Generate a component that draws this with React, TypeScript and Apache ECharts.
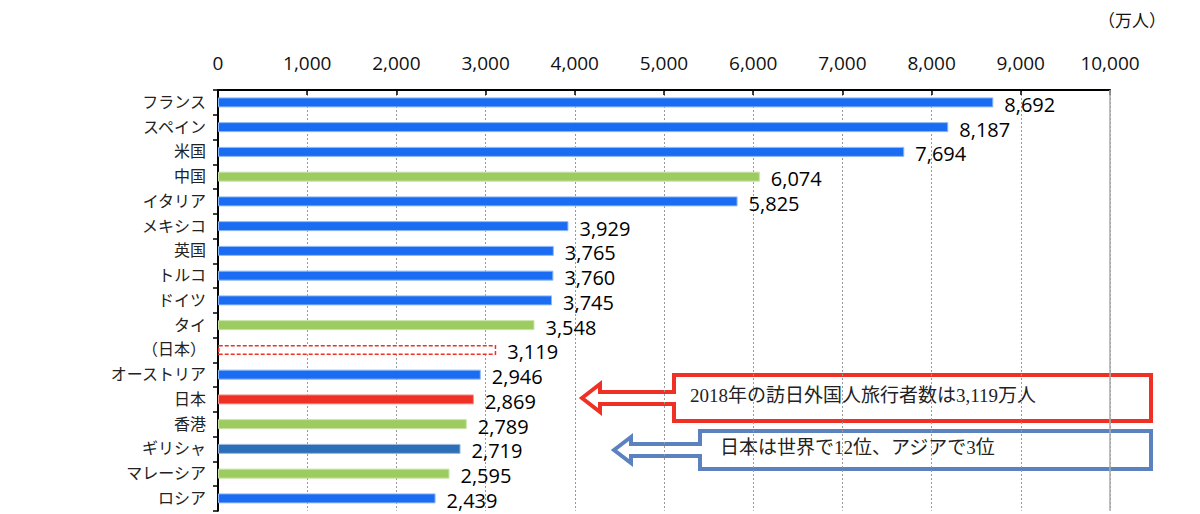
import { useEffect, useRef } from 'react';
import * as echarts from 'echarts';

// Countries, top to bottom
const categories = [
  'フランス', 'スペイン', '米国', '中国', 'イタリア', 'メキシコ', '英国', 'トルコ', 'ドイツ',
  'タイ', '（日本）', 'オーストリア', '日本', '香港', 'ギリシャ', 'マレーシア', 'ロシア',
];

// 外国人旅行者受入数（万人）
const values = [
  8692, 8187, 7694, 6074, 5825, 3929, 3765, 3760, 3745,
  3548, 3119, 2946, 2869, 2789, 2719, 2595, 2439,
];

// bar kind per category
const kinds = [
  'other', 'other', 'other', 'asia', 'other', 'other', 'other', 'other', 'other',
  'asia', 'japan2018', 'other', 'japan', 'asia', 'greece', 'asia', 'other',
];

const xTicks = [0, 1000, 2000, 3000, 4000, 5000, 6000, 7000, 8000, 9000, 10000];

const unitLabel = '（万人）';
const noteRed = '2018年の訪日外国人旅行者数は3,119万人';
const noteBlue = '日本は世界で12位、アジアで3位';

const JP_SERIF = "'Liberation Serif', 'Noto Sans CJK JP', serif";
const NUM_FONT = "'Open Sans', 'Noto Sans', sans-serif";

const kindStyle: Record<string, any> = {
  other: { color: '#1a6cf2', borderColor: '#8fb9f5', borderWidth: 1 },
  asia: { color: '#9ccb5f', borderColor: '#c9e3a6', borderWidth: 1 },
  japan: { color: '#ee3124', borderColor: '#f59a92', borderWidth: 1 },
  greece: { color: '#2d6fb7', borderColor: '#9bb9df', borderWidth: 1 },
  japan2018: { color: '#ffffff', borderColor: '#ee3124', borderWidth: 1.5, borderType: [4, 2] },
};

function arrowBox(tipX: number, tipY: number, headX: number, headHalf: number,
  shaftHalf: number, boxL: number, boxT: number, boxR: number, boxB: number) {
  return [
    [tipX, tipY],
    [headX, tipY - headHalf],
    [headX, tipY - shaftHalf],
    [boxL, tipY - shaftHalf],
    [boxL, boxT],
    [boxR, boxT],
    [boxR, boxB],
    [boxL, boxB],
    [boxL, tipY + shaftHalf],
    [headX, tipY + shaftHalf],
    [headX, tipY + headHalf],
  ];
}

export default function App() {
  const ref = useRef<HTMLDivElement>(null);

  useEffect(() => {
    if (!ref.current) return;
    const chart = echarts.init(ref.current, undefined, { renderer: 'svg' });

    chart.setOption({
      animation: false,
      backgroundColor: '#ffffff',
      grid: { left: 218, top: 90, width: 892, height: 420.75 },
      xAxis: {
        type: 'value',
        position: 'top',
        min: 0,
        max: 10000,
        interval: 1000,
        axisLine: { show: true, lineStyle: { color: '#000', width: 2 } },
        axisTick: { show: true, inside: true, length: 5, lineStyle: { color: '#000', width: 1.5 } },
        axisLabel: {
          margin: 18,
          color: '#111',
          fontFamily: NUM_FONT,
          fontSize: 19,
          formatter: (v: number) => (xTicks.includes(v) ? v.toLocaleString('en-US') : ''),
        },
        splitLine: { show: true, lineStyle: { color: '#999', type: [2, 2], width: 1 } },
      },
      yAxis: {
        type: 'category',
        inverse: true,
        data: categories,
        axisLine: { show: true, lineStyle: { color: '#000', width: 2 } },
        axisTick: { show: true, length: 5, lineStyle: { color: '#000', width: 1.5 } },
        axisLabel: {
          margin: 12,
          color: '#222',
          fontFamily: JP_SERIF,
          fontSize: 16,
        },
        splitLine: { show: false },
      },
      series: [
        {
          type: 'bar',
          barWidth: 10,
          data: values.map((v, i) => ({ value: v, itemStyle: kindStyle[kinds[i]] })),
          label: {
            show: true,
            position: 'right',
            distance: 11,
            offset: [0, 2],
            color: '#000',
            fontFamily: NUM_FONT,
            fontSize: 20,
            formatter: (p: any) => Number(p.value).toLocaleString('en-US'),
          },
          markLine: {
            silent: true,
            symbol: 'none',
            label: { show: false },
            lineStyle: { color: '#aaa', type: 'solid', width: 1.5 },
            data: [{ xAxis: 10000 }],
          },
        },
      ],
      graphic: [
        {
          type: 'text',
          left: 1098,
          top: 11,
          style: { text: unitLabel, fontFamily: "'Noto Sans CJK JP', sans-serif", fontSize: 17, fill: '#111' },
        },
        {
          type: 'polygon',
          shape: { points: arrowBox(582, 398, 600, 14, 6, 674, 375, 1151, 421) },
          style: { fill: '#fff', stroke: '#ee3124', lineWidth: 4, lineJoin: 'miter' },
        },
        {
          type: 'text',
          left: 690,
          top: 386,
          style: { text: noteRed, fontFamily: JP_SERIF, fontSize: 19, fill: '#222' },
        },
        {
          type: 'polygon',
          shape: { points: arrowBox(614, 450, 631, 13, 6, 700, 431, 1151, 469) },
          style: { fill: '#fff', stroke: '#5b82be', lineWidth: 4, lineJoin: 'miter' },
        },
        {
          type: 'text',
          left: 720,
          top: 438,
          style: { text: noteBlue, fontFamily: JP_SERIF, fontSize: 19, fill: '#222' },
        },
      ],
    });

    return () => chart.dispose();
  }, []);

  return (
    <div
      ref={ref}
      style={{ position: 'absolute', left: 0, top: 0, width: 1200, height: 514 }}
    />
  );
}
